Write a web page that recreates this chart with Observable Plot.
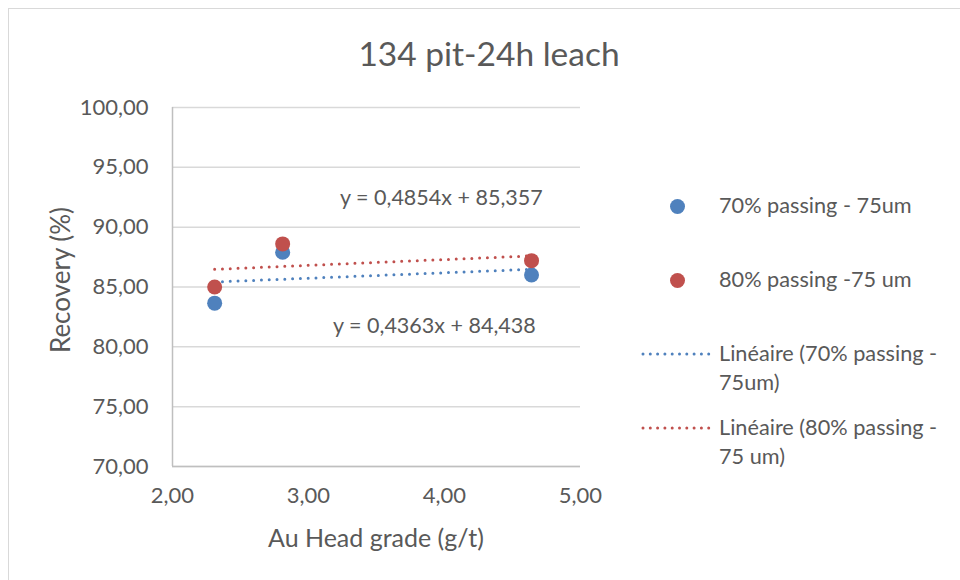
<!DOCTYPE html>
<html>
<head>
<meta charset="utf-8">
<script src="https://cdn.jsdelivr.net/npm/d3@7"></script>
<script src="https://cdn.jsdelivr.net/npm/@observablehq/plot@0.6"></script>
<style>
  html, body { margin: 0; padding: 0; background: #fff; }
  #wrap { position: relative; width: 960px; height: 580px; overflow: hidden; font-family: Lato, "Open Sans", sans-serif; color: #595959; }
  #frame { position: absolute; left: 8px; top: 8px; width: 1000px; height: 640px; border: 1.5px solid #d9d9d9; box-sizing: border-box; }
  .abs { position: absolute; white-space: nowrap; }
  #title { left: 0; width: 978px; top: 33px; text-align: center; font-size: 33.5px; line-height: 40px; }
  .eq { font-size: 21.5px; line-height: 26px; }
  .leg { font-size: 21.7px; line-height: 29px; }
  #chart { position: absolute; left: 0; top: 0; }
</style>
</head>
<body>
<div id="wrap">
  <div id="frame"></div>
  <div id="chart"></div>
</div>
<script>
// ---- data ----
const grade = [2.31, 2.81, 4.64];
const rec70 = [83.65, 87.9, 86.0];
const rec80 = [85.0, 88.6, 87.2];
const seriesNames = ["70% passing - 75um", "80% passing -75 um"];
const trendNames = ["Linéaire (70% passing -", "75um)", "Linéaire (80% passing -", "75 um)"];
const equations = ["y = 0,4854x + 85,357", "y = 0,4363x + 84,438"];
const xTicks = [2, 3, 4, 5];
const yTicks = [70, 75, 80, 85, 90, 95, 100];
const title = "134 pit-24h leach";
const xLabel = "Au Head grade (g/t)";
const yLabel = "Recovery (%)";
const colors = ["#4F81BD", "#C0504D"];

const rows = [];
grade.forEach((g, i) => rows.push({ x: g, y: rec70[i], s: seriesNames[0] }));
grade.forEach((g, i) => rows.push({ x: g, y: rec80[i], s: seriesNames[1] }));

const fmt = d => d.toFixed(2).replace(".", ",");

const plot = Plot.plot({
  width: 960,
  height: 580,
  marginLeft: 172,
  marginRight: 380,
  marginTop: 107,
  marginBottom: 114,
  style: { fontFamily: "Lato, 'Open Sans', sans-serif", fontSize: "22px", color: "#595959", background: "transparent", overflow: "visible" },
  x: { domain: [2, 5] },
  y: { domain: [70, 100] },
  color: { domain: seriesNames, range: colors },
  marks: [
    Plot.gridY(yTicks, { stroke: "#d9d9d9", strokeOpacity: 1, strokeWidth: 1.5 }),
    Plot.axisX(xTicks, { tickFormat: fmt, tickSize: 0, tickPadding: 21, label: null, fill: "#595959" }),
    Plot.axisY(yTicks, { tickFormat: fmt, tickSize: 0, tickPadding: 24, label: null, fill: "#595959" }),
    Plot.ruleX([2], { stroke: "#bfbfbf", strokeWidth: 1.5 }),
    Plot.ruleY([70], { stroke: "#bfbfbf", strokeWidth: 1.5 }),
    Plot.linearRegressionY(rows, { x: "x", y: "y", stroke: "s", ci: 0, strokeWidth: 3, strokeDasharray: "0 7.8", strokeLinecap: "round" }),
    Plot.dot(rows, { x: "x", y: "y", fill: "s", r: 7.5 })
  ]
});
document.getElementById("chart").appendChild(plot);

const wrap = document.getElementById("wrap");
function addText(txt, cls, css) {
  const d = document.createElement("div");
  d.className = "abs " + cls;
  d.textContent = txt;
  Object.assign(d.style, css);
  wrap.appendChild(d);
  return d;
}
addText(title, "", {}).id = "title";
addText(xLabel, "", { left: "126px", width: "500px", textAlign: "center", top: "522px", fontSize: "25px", lineHeight: "30px" });
addText(yLabel, "", { left: "60px", top: "280px", fontSize: "26px", lineHeight: "30px", transform: "translate(-50%,-50%) rotate(-90deg)" });
addText(equations[0], "eq", { left: "340px", top: "184px" });
addText(equations[1], "eq", { left: "333px", top: "312px" });

// legend
const NS = "http://www.w3.org/2000/svg";
function legDot(color, y) {
  const d = document.createElement("div");
  d.className = "abs";
  Object.assign(d.style, { left: "670px", top: (y - 7.5) + "px", width: "15px", height: "15px", borderRadius: "50%", background: color });
  wrap.appendChild(d);
}
function legLine(color, y) {
  const svg = document.createElementNS(NS, "svg");
  svg.setAttribute("width", "80");
  svg.setAttribute("height", "10");
  Object.assign(svg.style, { position: "absolute", left: "638px", top: (y - 5) + "px" });
  const l = document.createElementNS(NS, "line");
  l.setAttribute("x1", 5); l.setAttribute("x2", 71);
  l.setAttribute("y1", 5); l.setAttribute("y2", 5);
  l.setAttribute("stroke", color);
  l.setAttribute("stroke-width", 3);
  l.setAttribute("stroke-dasharray", "0 7.3");
  l.setAttribute("stroke-linecap", "round");
  svg.appendChild(l);
  wrap.appendChild(svg);
}
legDot(colors[0], 206);
addText(seriesNames[0], "leg", { left: "719px", top: "191px" });
legDot(colors[1], 280);
addText(seriesNames[1], "leg", { left: "719px", top: "265px" });
legLine(colors[0], 354);
addText(trendNames[0], "leg", { left: "719px", top: "339px" });
addText(trendNames[1], "leg", { left: "719px", top: "368px" });
legLine(colors[1], 428);
addText(trendNames[2], "leg", { left: "719px", top: "413px" });
addText(trendNames[3], "leg", { left: "719px", top: "442px" });
</script>
</body>
</html>
